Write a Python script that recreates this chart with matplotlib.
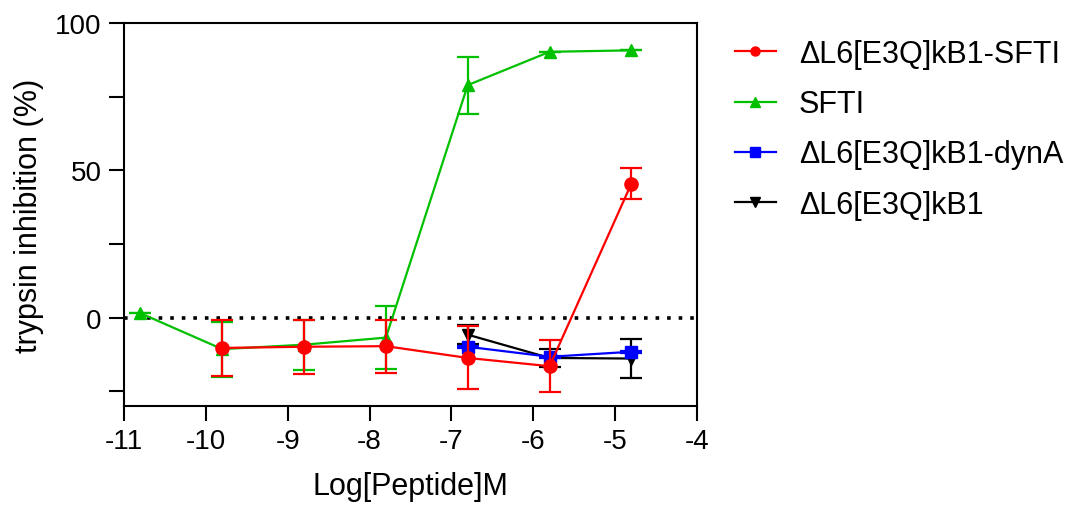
import matplotlib.pyplot as plt
from matplotlib.lines import Line2D
from matplotlib.ticker import MultipleLocator

plt.rcParams['font.family'] = ['Liberation Sans', 'DejaVu Sans']
plt.rcParams['axes.unicode_minus'] = False

# log concentrations
x_all = [-10.8, -9.8, -8.8, -7.8, -6.8, -5.8, -4.8]
x_red = [-9.8, -8.8, -7.8, -6.8, -5.8, -4.8]
x_late = [-6.8, -5.8, -4.8]

sfti = [1.5, -10.7, -9.2, -6.8, 78.9, 90.2, 90.7]
sfti_err = [0, 9.3, 8.5, 10.8, 9.7, 0, 0]

kb1_sfti = [-10.3, -9.9, -9.7, -13.7, -16.5, 45.5]
kb1_sfti_err = [9.5, 9.2, 9.0, 10.7, 8.9, 5.2]

kb1_dyna = [-9.9, -13.3, -11.6]
kb1_dyna_err = [0.4, 0.4, 0.4]

kb1 = [-5.8, -13.7, -13.9]
kb1_err = [3.2, 3.1, 6.7]

labels = ["ΔL6[E3Q]kB1-SFTI", "SFTI", "ΔL6[E3Q]kB1-dynA", "ΔL6[E3Q]kB1"]
colors = ['#FF0000', '#00C000', '#0000FF', 'black']
markers = ['o', '^', 's', 'v']

fig = plt.figure(figsize=(10.77, 5.06), dpi=100)
ax = fig.add_axes([0.1151, 0.1957, 0.532, 0.757])

ax.plot([-11, -4], [0, 0], color='black', linestyle=(0, (1, 2.2)), linewidth=2.6, zorder=1)

common = dict(linewidth=1.6, elinewidth=1.6, capsize=8, capthick=1.6)
ax.errorbar(x_late, kb1, yerr=kb1_err, color=colors[3], marker='v', markersize=9, zorder=2, **common)
ax.errorbar(x_late, kb1_dyna, yerr=kb1_dyna_err, color=colors[2], marker='s', markersize=8.5, zorder=3, **common)
ax.errorbar(x_all, sfti, yerr=sfti_err, color=colors[1], marker='^', markersize=9, zorder=4, **common)
ax.errorbar(x_red, kb1_sfti, yerr=kb1_sfti_err, color=colors[0], marker='o', markersize=9.5, zorder=5, **common)

ax.set_xlim(-11, -4)
ax.set_ylim(-30, 100)
ax.set_xticks(range(-11, -3))
ax.set_yticks([0, 50, 100])
ax.yaxis.set_minor_locator(MultipleLocator(25))
ax.tick_params(axis='both', which='major', direction='out', length=11, width=1.5, labelsize=20, pad=5)
ax.tick_params(axis='y', which='minor', direction='out', length=11, width=1.5)
for s in ax.spines.values():
    s.set_linewidth(1.5)

ax.set_xlabel("Log[Peptide]M", fontsize=22, labelpad=12)
ax.set_ylabel("trypsin inhibition (%)", fontsize=22, labelpad=8)

handles = [Line2D([], [], color=c, marker=m, markersize=6.5, linewidth=1.6)
           for c, m in zip(colors, markers)]
fig.legend(handles, labels, loc='upper left',
           bbox_to_anchor=(0.6565, 0.975), frameon=False, fontsize=22,
           handlelength=1.35, handletextpad=0.75, labelspacing=0.66)

fig.savefig("out.png", dpi=100)
